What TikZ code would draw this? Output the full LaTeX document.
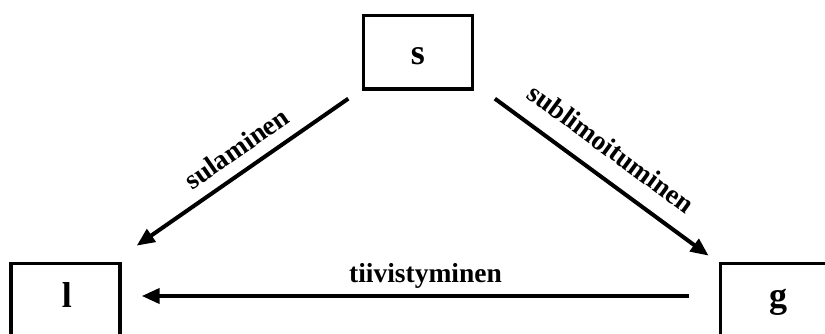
\documentclass[tikz,border=0pt]{standalone}
\usepackage{fontspec}
\setmainfont{Liberation Serif}
\usetikzlibrary{arrows.meta}
\begin{document}
\begin{tikzpicture}[x=1pt,y=-1pt,
  box/.style={draw, line width=3.4pt, minimum width=109pt, minimum height=73.3pt, inner sep=0pt},
  boxtxt/.style={font=\fontsize{36}{40}\selectfont\bfseries, anchor=base, inner sep=0pt},
  arr/.style={line width=4pt, -{Triangle[length=18pt,width=15pt]}},
  lab/.style={font=\fontsize{27.5}{32}\selectfont\bfseries, inner sep=0pt}]
\useasboundingbox (0,0) rectangle (825,334);
\clip (0,0) rectangle (825,334);
\node[box] (s) at (418,52.3) {};
\node[box] (l) at (65.5,300) {};
\node[box] (g) at (774.8,300) {};
\node[boxtxt] (st) at (418,65) {s};
\node[boxtxt] (lt) at (67,307) {l};
\node[boxtxt] (gt) at (778,307) {g};
\draw[arr] ([shift={(-13.5,8)}]s.south west) -- node[lab, sloped, pos=0.466, yshift=23pt] (la) {sulaminen} ([shift={(15,-16)}]l.north east);
\draw[arr] ([shift={(20.7,8)}]s.south east) -- node[lab, sloped, pos=0.465, yshift=29pt] (lb) {sublimoituminen} ([shift={(-10,-6)}]g.north west);
\draw[arr] ([shift={(-30,-4)}]g.west) -- ([shift={(20,-4)}]l.east);
\node[lab, anchor=base] (lc) at (425.5,282) {tiivistyminen};
\end{tikzpicture}
\end{document}
